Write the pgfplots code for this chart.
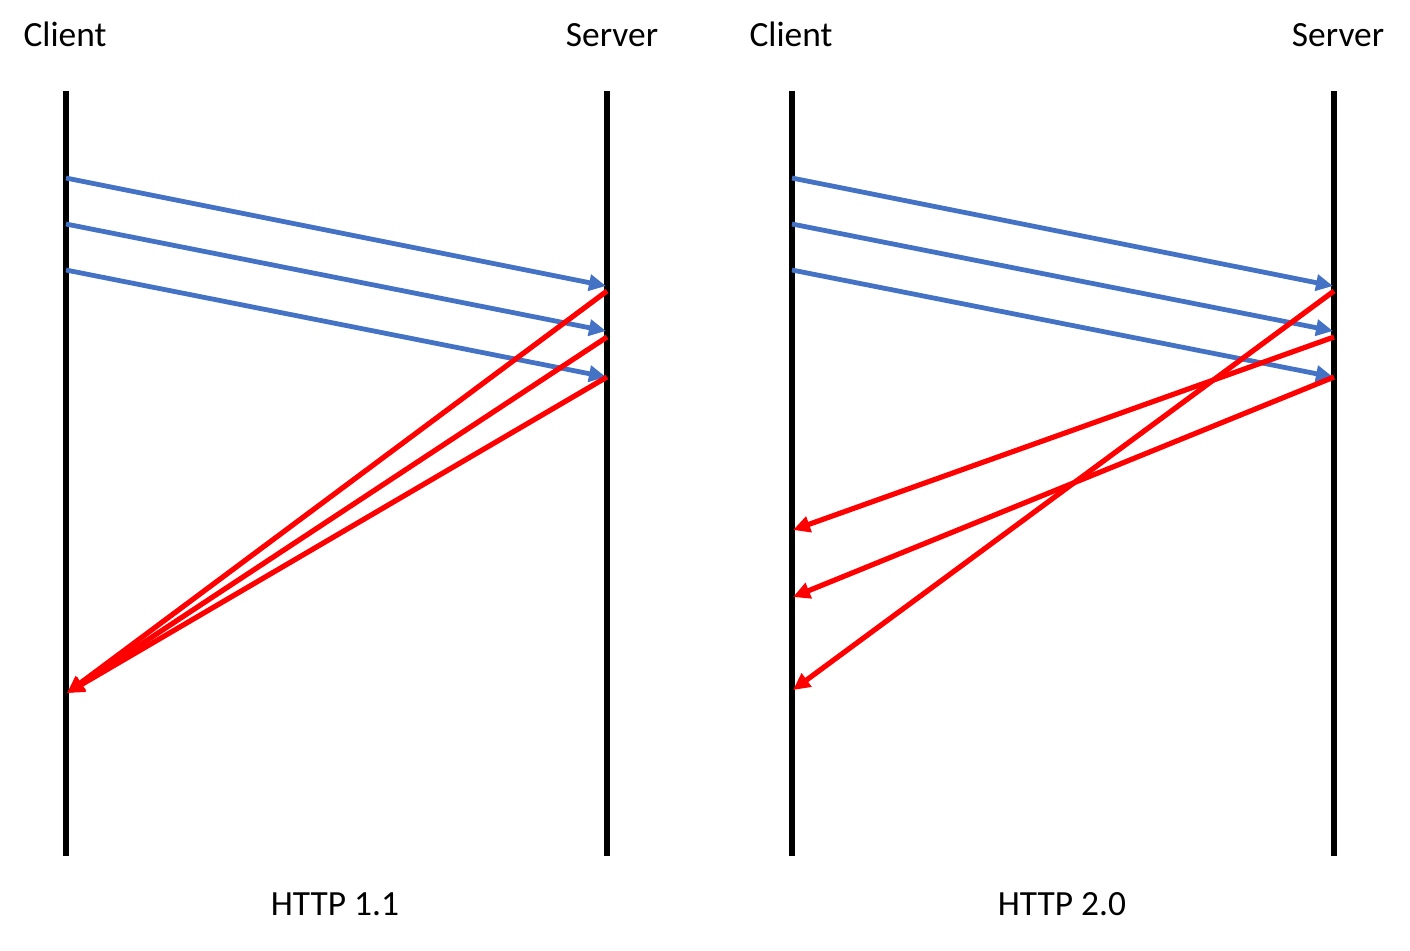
\documentclass[border=0pt]{standalone}
\usepackage{fontspec}
\setmainfont{Carlito}
\usepackage{pgfplots}
\pgfplotsset{compat=1.18}
\usetikzlibrary{arrows.meta}
\definecolor{reqblue}{HTML}{4472C4}
\definecolor{resred}{HTML}{FF0000}
\tikzset{lbl/.style={font=\fontsize{17.7}{20}\selectfont, inner sep=0pt, anchor=base}}
\pgfplotsset{
  req/.style={reqblue, line width=2.4pt, -{Triangle[length=8.5pt,width=8pt]}},
  res/.style={resred, line width=2.6pt, -{Triangle[length=8.5pt,width=8pt]}},
  life/.style={black, line width=2.6pt},
}
\begin{document}
\begin{tikzpicture}
\begin{axis}[
  scale only axis, width=705pt, height=475pt,
  xmin=0, xmax=1410, ymin=0, ymax=950, y dir=reverse,
  hide axis, clip=false,
]
\path (rel axis cs:0,0) rectangle (rel axis cs:1,1);
% lifelines
\addplot[life] coordinates {(66,91) (66,856)};
\addplot[life] coordinates {(607,91) (607,856)};
\addplot[life] coordinates {(792,91) (792,856)};
\addplot[life] coordinates {(1334,91) (1334,856)};
% HTTP 1.1 requests
\addplot[req] coordinates {(66,178) (606,286)};
\addplot[req] coordinates {(66,224) (606,331)};
\addplot[req] coordinates {(66,270) (606,377)};
% HTTP 1.1 responses
\addplot[res] coordinates {(607,291) (67,693)};
\addplot[res] coordinates {(607,337) (67,693)};
\addplot[res] coordinates {(607,377) (67,693)};
% HTTP 2.0 requests
\addplot[req] coordinates {(792,178) (1333,286)};
\addplot[req] coordinates {(792,224) (1333,331)};
\addplot[req] coordinates {(792,270) (1333,377)};
% HTTP 2.0 responses
\addplot[res] coordinates {(1334,291) (793,690)};
\addplot[res] coordinates {(1334,337) (793,530)};
\addplot[res] coordinates {(1334,377) (793,597)};
% labels
\node[lbl] at (axis cs:65,46) {Client};
\node[lbl] at (axis cs:612,46) {Server};
\node[lbl] at (axis cs:791,46) {Client};
\node[lbl] at (axis cs:1338,46) {Server};
\node[lbl] at (axis cs:335,915) {HTTP 1.1};
\node[lbl] at (axis cs:1062,915) {HTTP 2.0};
\end{axis}
\end{tikzpicture}
\end{document}
